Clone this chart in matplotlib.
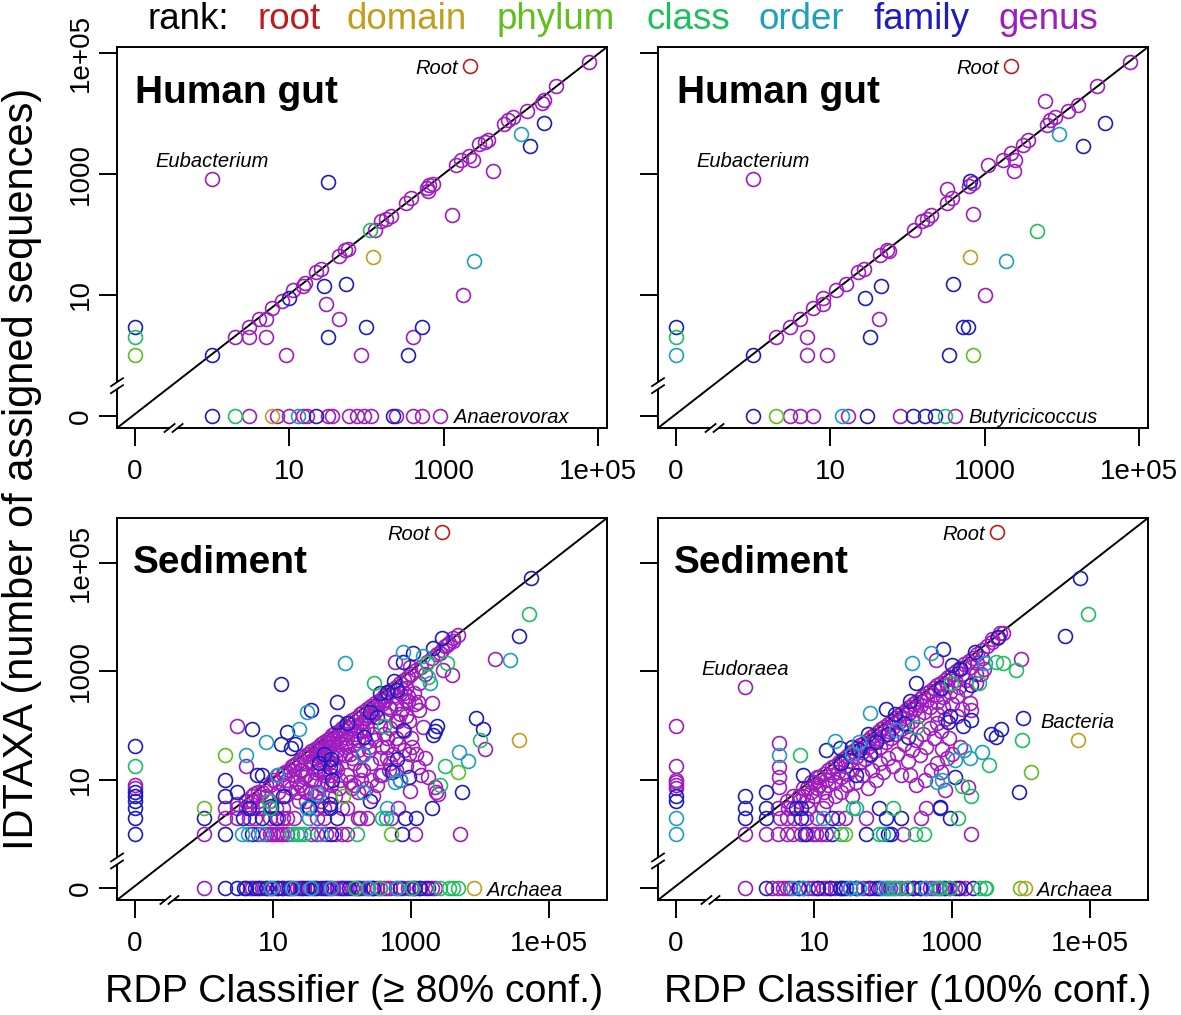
import numpy as np
import matplotlib
matplotlib.use("Agg")
import matplotlib.pyplot as plt

plt.rcParams['font.family'] = ['Liberation Sans', 'DejaVu Sans']

# ---------------------------------------------------------------- labels
RANKS = ["root", "domain", "phylum", "class", "order", "family", "genus"]
RANK_COLORS = ["#BF1D1D", "#BF9F1D", "#5EBF1D", "#1DBF5E", "#1D9FBF", "#1D1DBF", "#9F1DBF"]
TICK_VALUES = [0, 10, 1000, 100000]
TICK_LABELS = ["0", "10", "1000", "1e+05"]
PANEL_TITLES = ["Human gut", "Human gut", "Sediment", "Sediment"]
X_LABELS = ["RDP Classifier (\u2265 80% conf.)", "RDP Classifier (100% conf.)"]
Y_LABEL = "IDTAXA (number of assigned sequences)"

# ---------------------------------------------------------------- data: (RDP count, IDTAXA count)
# ----- Human gut, RDP >= 80%
TL_ROOT = [(2200, 61000)]
TL_DOMAIN = [(6, 0), (120, 43)]
TL_PHYLUM = [(0, 1)]
TL_CLASS = [(0, 2), (2, 0), (110, 120)]
TL_ORDER = [(13, 0), (2500, 36), (10000, 4500)]
TL_FAMILY = [(0, 3), (1, 0), (22, 0), (220, 0), (1, 1), (10, 9), (28, 14), (32, 2), (55, 15),
             (100, 3), (520, 3), (350, 1), (13000, 2900), (20000, 6900), (32, 740)]
TL_GENUS = [(3, 0), (7, 0), (10, 0), (15, 0), (17, 0), (32, 0), (36, 0), (60, 0), (76, 0), (94, 0),
            (116, 0), (240, 0), (400, 0), (530, 0), (900, 0),
            (2, 2), (3, 2), (3, 3), (4, 4), (5, 4), (5, 2), (6, 6), (8, 8), (11, 12), (15, 14),
            (16, 16), (22, 24), (26, 27), (30, 7), (44, 4), (9, 1), (44, 44), (52, 56), (57, 58),
            (85, 1), (130, 120), (155, 165), (180, 180), (210, 200), (330, 330), (380, 400),
            (600, 580), (650, 650), (720, 680), (620, 530), (400, 2), (1300, 210), (1800, 10),
            (1450, 1400), (1700, 1700), (2100, 2000), (2400, 1700), (2900, 3100), (3400, 3400),
            (3800, 3700), (4400, 1100), (6100, 6700), (6800, 7800), (7900, 8700), (12000, 11000),
            (19000, 15000), (20000, 17000), (29000, 28000), (77000, 70000), (1, 830)]

# ----- Human gut, RDP 100%
TR_ROOT = [(2200, 61000)]
TR_DOMAIN = [(650, 43)]
TR_PHYLUM = [(2, 0), (700, 1)]
TR_CLASS = [(0, 2), (306, 0), (4800, 115)]
TR_ORDER = [(0, 1), (14, 0), (1900, 36), (9200, 4500)]
TR_FAMILY = [(0, 3), (1, 0), (30, 0), (119, 0), (167, 0), (227, 0), (1, 1), (28, 9), (46, 14),
             (33, 2), (650, 780), (390, 15), (520, 3), (610, 3), (350, 1), (19000, 2900),
             (36000, 6900)]
TR_GENUS = [(3, 0), (4, 0), (6, 0), (17, 0), (81, 0), (412, 0),
            (2, 2), (3, 3), (4, 4), (5, 2), (5, 1), (6, 6), (8, 7), (8, 9), (9, 1), (12, 12),
            (16, 15), (23, 24), (27, 27), (43, 4), (44, 45), (54, 56), (57, 54), (120, 120),
            (155, 165), (180, 180), (200, 210), (330, 330), (380, 400), (330, 570), (620, 640),
            (700, 700), (710, 215), (1000, 10), (1100, 1400), (1750, 1700), (2200, 2200),
            (2400, 1100), (2500, 1700), (3100, 3000), (3600, 3600), (6100, 16000), (6400, 6500),
            (7000, 7800), (8200, 8700), (12000, 11000), (16000, 14000), (29000, 28000),
            (77000, 70000), (1, 830)]

# ----- Sediment, RDP >= 80%
BL_ROOT = [(2800, 370000)]
BL_DOMAIN = [(8100, 0), (37000, 55)]
BL_PHYLUM = [(520, 1), (1, 3), (4800, 14), (2, 29), (105, 5)]
BL_CLASS = [(0, 18), (155, 0), (360, 0), (1020, 0), (2600, 0), (3500, 0), (4100, 0), (4800, 0),
            (19, 1), (25, 1), (28, 1), (165, 1), (380, 2), (9, 3), (52000, 11500), (10000, 53),
            (3100, 18), (2600, 7.9), (3300, 1400), (1700, 1400), (1780, 800), (290, 600),
            (400, 100), (8.8, 4.1)]
BL_ORDER = [(9.3, 0), (19, 0), (35, 0), (620, 0), (3.6, 1), (4.3, 1), (7, 1), (22, 1), (50, 1),
            (33, 2), (440, 2), (31, 3), (450, 3), (27000, 1600), (4900, 33), (6700, 22),
            (110, 1450), (4, 29), (8, 49), (1500, 1900), (770, 2300), (1900, 600), (31, 175),
            (24, 87), (690, 9.7), (590, 9), (200, 6), (200, 28), (44, 5.5), (11.5, 12),
            (70, 0), (240, 0)]
BL_FAMILY = [(0, 42), (0, 6), (0, 5), (0, 4), (0, 3), (0, 2), (0, 1),
             (2, 0), (3, 0), (3.8, 0), (5.4, 0), (6.3, 0), (11.5, 0), (13.6, 0), (26, 0), (31, 0),
             (49, 0), (58, 0), (125, 0), (285, 0), (1350, 0), (1780, 0), (4, 0), (8, 0), (17, 0),
             (40, 0), (100, 0), (170, 0), (700, 0), (1100, 0),
             (2, 1), (5, 1), (70, 1), (730, 1), (1, 2), (3.7, 2), (7, 2), (11, 2), (85, 2),
             (820, 2), (1200, 2), (4.5, 3), (9.3, 3), (33, 3), (68, 3), (2000, 3),
             (55000, 52000), (37000, 4500), (8700, 135), (11000, 85), (5400, 5.9), (13, 590),
             (5, 86), (2, 10), (2, 5), (3, 6), (2800, 4100), (2100, 2700), (1080, 2150),
             (770, 1500), (560, 650), (620, 450), (450, 420), (360, 390), (85, 270), (35, 190),
             (16, 76), (13, 46), (18, 39), (21, 46), (85, 117), (118, 110), (205, 62), (255, 180),
             (320, 145), (770, 82), (2350, 100), (2100, 66), (2200, 80), (620, 24), (530, 14),
             (920, 11), (255, 4.1), (72, 9.7), (68, 17), (70, 24), (46, 20), (55, 30), (68, 3.6),
             (33, 3.1), (14, 5.1), (9.3, 3.3), (5.9, 12), (7, 12)]
BL_GENUS = [(0, 8), (0, 7),
            (1, 0), (4.7, 0), (7, 0), (8.3, 0), (16, 0), (22, 0), (44, 0), (68, 0), (85, 0),
            (106, 0), (183, 0), (230, 0), (320, 0), (400, 0), (500, 0), (770, 0), (1150, 0),
            (1600, 0), (2000, 0), (2200, 0), (5, 0), (6, 0), (9, 0), (10, 0), (12, 0), (14, 0),
            (18, 0), (20, 0), (25, 0), (28, 0), (33, 0), (38, 0), (55, 0), (62, 0), (75, 0),
            (95, 0), (115, 0), (140, 0), (160, 0), (200, 0), (260, 0), (280, 0), (350, 0),
            (450, 0), (600, 0), (900, 0), (1000, 0), (1300, 0),
            (1, 1), (6, 1), (8, 1), (9, 1), (10, 1), (11, 1), (12, 1), (13, 1), (14, 1), (16, 1),
            (35, 1), (44, 1), (58, 1), (80, 1), (100, 1), (120, 1), (1150, 1), (5100, 1),
            (2, 2), (3, 2), (4.5, 2), (5.5, 2), (9, 2), (12, 2), (14, 2), (16, 2), (20, 2),
            (44, 2), (55, 2), (170, 2), (180, 2), (230, 2), (520, 2),
            (2, 3), (4, 3), (6, 3), (11, 3), (14, 3), (44, 3), (55, 3), (100, 3), (120, 3), (650, 3),
            (16600, 1700), (12000, 37), (2300, 6), (3, 97), (4, 18), (4800, 4700), (4100, 4100),
            (3500, 3300), (3100, 2900), (2600, 2200), (3900, 850), (2900, 1050), (590, 1500),
            (970, 1220), (1500, 95), (2000, 255), (1270, 275), (1300, 190), (700, 165), (860, 290),
            (1020, 40), (860, 18), (1270, 17), (1780, 11), (2200, 7.3), (960, 6.3), (2500, 5.5),
            (3, 3.6), (4, 4.1), (5.3, 5.5),
            (3, 3), (4, 4), (5, 4), (5, 5), (6, 6), (7, 6), (8, 8), (9, 8), (10, 10), (11, 9),
            (12, 12), (14, 13), (15, 14), (17, 15), (19, 18), (20, 19), (22, 20), (25, 23),
            (28, 26), (30, 28), (33, 30), (36, 34), (40, 37), (45, 40), (50, 46), (55, 50),
            (60, 55), (66, 60), (72, 66), (80, 72), (90, 80), (100, 90), (110, 100), (125, 110),
            (140, 125), (160, 140), (180, 160), (200, 180), (230, 200), (260, 230), (300, 260),
            (350, 300), (400, 350), (460, 400), (520, 460), (600, 520), (700, 600), (800, 700),
            (900, 800), (1000, 900), (1200, 1050), (1400, 1200), (1700, 1500), (2000, 1800),
            (2400, 2100), (2800, 2500), (3300, 3000), (4000, 3600),
            (5, 3), (6, 4), (7, 3), (8, 5), (9, 4), (12, 6), (14, 8), (15, 5), (16, 10), (18, 7),
            (20, 12), (22, 9), (25, 15), (28, 11), (30, 6), (24, 4), (26, 7), (35, 20), (40, 25),
            (45, 15), (50, 30), (55, 12), (60, 35), (65, 20), (70, 8), (75, 45), (80, 25), (85, 15),
            (90, 50), (95, 30), (35, 10), (45, 6), (55, 25), (65, 40), (75, 18), (85, 60), (95, 10),
            (40, 14), (60, 9), (70, 30), (80, 5), (110, 70), (120, 40), (130, 90), (140, 25),
            (150, 60), (160, 100), (170, 35), (180, 15), (190, 80), (200, 120), (220, 50),
            (240, 150), (260, 20), (280, 70), (300, 180), (120, 12), (150, 8), (200, 30), (250, 40),
            (110, 28), (170, 55), (230, 90), (140, 7), (190, 10), (330, 250), (350, 100), (380, 40),
            (400, 300), (420, 160), (450, 60), (480, 220), (500, 20), (550, 350), (600, 120),
            (650, 45), (700, 400), (750, 200), (800, 80), (850, 500), (900, 280), (950, 30),
            (350, 12), (450, 25), (600, 15), (700, 10), (800, 35), (120, 60), (150, 45), (200, 80),
            (250, 35), (300, 55), (350, 25), (400, 70), (450, 40), (500, 90), (550, 30), (150, 20),
            (200, 15), (260, 10), (320, 8), (380, 12), (220, 7), (280, 5), (130, 9), (170, 6),
            (480, 15), (600, 60), (650, 120), (850, 150), (900, 350), (1100, 400), (1300, 600),
            (1600, 900), (1150, 250), (950, 120), (1000, 60), (1200, 30), (1400, 12), (1600, 25),
            (800, 400), (600, 250), (500, 200), (25, 8), (30, 12), (35, 6), (40, 10), (45, 18),
            (50, 8), (55, 14), (60, 22), (65, 5), (70, 12), (80, 18), (90, 7), (30, 4), (40, 5),
            (50, 4), (22, 6), (26, 15), (34, 22), (42, 28), (48, 35), (58, 40), (64, 48), (75, 55),
            (85, 35), (95, 70), (110, 45), (130, 30), (160, 70), (190, 110), (220, 140), (270, 170),
            (320, 200), (380, 250), (420, 300)]

# ----- Sediment, RDP 100%
BR_ROOT = [(4500, 370000)]
BR_DOMAIN = [(11300, 0), (66000, 55)]
BR_PHYLUM = [(9570, 0), (28, 1), (13800, 14)]
BR_CLASS = [(140, 0), (218, 0), (662, 0), (925, 0), (2520, 0), (2970, 0), (3150, 0),
            (25, 1), (89, 1), (290, 1), (390, 1), (1220, 2), (37, 3), (140, 3),
            (93000, 11500), (8500, 1040), (5500, 1400), (4400, 1500), (10400, 53), (3400, 19),
            (1900, 5.1), (1400, 7.5), (2500, 600), (980, 600), (300, 95), (6.2, 29)]
BR_ORDER = [(0, 2), (0, 1), (5, 0), (6.9, 0), (33, 0), (100, 0), (165, 0), (593, 0),
            (45, 0), (120, 0), (400, 0),
            (100, 1), (13.5, 2), (41, 3), (3000, 1400), (2700, 33), (1500, 35), (1100, 23),
            (710, 9.7), (600, 9), (500, 2150), (260, 1450), (64, 170), (155, 82), (20, 51),
            (3.1, 29), (1800, 25), (45, 50), (35, 30)]
BR_FAMILY = [(0, 5), (0, 4), (2, 0), (11.4, 0), (16.9, 0), (23.5, 0), (29, 0), (41, 0), (64, 0),
             (340, 0), (1220, 0), (2010, 0), (6, 0), (26, 0), (85, 0), (270, 0), (800, 0),
             (7.3, 1), (18.4, 1), (57, 1), (118, 1), (132, 1), (1, 2), (2, 2), (6.5, 2), (18.4, 2),
             (112, 2), (185, 2), (925, 2), (1, 3), (2, 3), (5.5, 3), (6.5, 3), (89, 3), (662, 3),
             (1, 5), (2, 6), (71000, 52000), (43000, 4500), (10700, 135), (9400, 5.9), (3700, 71),
             (4400, 62), (5200, 88), (1100, 11), (660, 3.1), (1900, 125), (1450, 98), (870, 117),
             (950, 150), (1900, 560), (300, 600), (740, 2600), (4600, 4300), (2150, 2300),
             (112, 205), (230, 62), (15, 36), (24, 38), (7, 12), (150, 160), (60, 70), (35, 40),
             (250, 280), (1000, 1300), (1300, 1100), (25, 20), (45, 35), (80, 50), (200, 110),
             (120, 70), (65, 30), (40, 12), (700, 500)]
BR_GENUS = [(0, 97), (0, 18), (0, 10), (0, 9), (0, 8), (0, 7),
            (1, 0), (3, 0), (3.6, 0), (4, 0), (5.9, 0), (8.2, 0), (9.7, 0), (13.5, 0), (20, 0),
            (51, 0), (76, 0), (125, 0), (185, 0), (272, 0), (425, 0), (530, 0), (741, 0), (1530, 0),
            (2.5, 0), (4.5, 0), (7, 0), (11, 0), (15, 0), (17, 0), (25, 0), (33, 0), (40, 0),
            (60, 0), (90, 0), (110, 0), (150, 0), (230, 0), (350, 0), (480, 0), (650, 0),
            (900, 0), (1100, 0), (1300, 0),
            (1, 1), (2, 1), (3, 1), (4, 1), (5, 1), (6.5, 1), (9.7, 1), (10.8, 1), (12.8, 1),
            (195, 1), (1900, 1), (3.2, 2), (4, 2), (5.2, 2), (7.7, 2), (28, 2), (57, 2), (360, 2),
            (3, 3), (4.2, 3), (8.2, 3), (13.5, 3), (425, 3), (8, 1), (15, 1), (22, 2), (11, 2),
            (10000, 1700), (710, 37), (1700, 7.3), (800, 6.5), (1900, 190), (1800, 260),
            (1200, 150), (740, 220), (600, 165), (590, 1600), (5000, 5000), (3800, 3900),
            (2700, 1800), (2900, 1100), (2300, 1400), (3.1, 47), (3.1, 17), (3.1, 11), (3.1, 7.3),
            (1, 520),
            (4, 4), (5, 5), (6, 5), (7, 7), (8, 7), (9, 9), (10, 9), (11, 11), (12, 11), (14, 13),
            (16, 15), (18, 17), (20, 18), (23, 21), (26, 24), (30, 27), (33, 31), (37, 34),
            (42, 38), (47, 43), (53, 48), (60, 55), (67, 61), (75, 68), (85, 77), (95, 86),
            (105, 95), (120, 108), (135, 122), (150, 136), (170, 154), (190, 172), (215, 195),
            (240, 218), (270, 245), (300, 272), (340, 308), (380, 345), (430, 390), (480, 435),
            (540, 490), (610, 550), (690, 620), (780, 700), (880, 790), (1000, 900), (1150, 1030),
            (1300, 1170), (1500, 1350), (1750, 1580), (2000, 1800), (2300, 2100), (2700, 2450),
            (3200, 2900), (3800, 3500), (4500, 4200), (5500, 5200),
            (5, 3), (6, 4), (7, 5), (8, 4), (9, 6), (10, 5), (11, 7), (12, 8), (14, 6), (15, 10),
            (16, 8), (18, 12), (20, 9), (22, 14), (25, 11), (28, 18), (30, 13), (33, 22), (36, 16),
            (40, 26), (45, 20), (50, 32), (55, 24), (60, 40), (65, 28), (70, 48), (75, 34),
            (80, 55), (90, 40), (100, 65), (110, 50), (120, 80), (130, 60), (140, 95), (155, 70),
            (170, 115), (185, 85), (200, 140), (220, 100), (240, 170), (260, 120), (290, 200),
            (320, 150), (350, 240), (390, 180), (430, 300), (480, 220), (530, 360), (600, 270),
            (670, 450), (750, 330), (850, 560), (950, 420), (1100, 700), (1250, 520), (1400, 900),
            (1600, 700), (1900, 1200), (2200, 900),
            (15, 4), (20, 5), (25, 6), (30, 8), (35, 5), (40, 9), (50, 12), (60, 7), (70, 15),
            (80, 10), (90, 20), (100, 14), (120, 25), (140, 18), (160, 30), (180, 12), (200, 45),
            (230, 22), (260, 35), (300, 55), (340, 28), (380, 70), (420, 40), (480, 90), (540, 60),
            (600, 110), (700, 80), (800, 130), (900, 60), (1000, 250), (1200, 350), (1400, 200),
            (1600, 450), (1000, 30), (600, 20), (400, 10), (500, 15), (300, 8), (250, 12),
            (700, 14), (850, 25), (1300, 40), (2200, 600), (2600, 900)]

PANEL_DATA = [
    [TL_GENUS, TL_FAMILY, TL_ORDER, TL_CLASS, TL_PHYLUM, TL_DOMAIN, TL_ROOT],
    [TR_GENUS, TR_FAMILY, TR_ORDER, TR_CLASS, TR_PHYLUM, TR_DOMAIN, TR_ROOT],
    [BL_GENUS, BL_FAMILY, BL_ORDER, BL_CLASS, BL_PHYLUM, BL_DOMAIN, BL_ROOT],
    [BR_GENUS, BR_FAMILY, BR_ORDER, BR_CLASS, BR_PHYLUM, BR_DOMAIN, BR_ROOT],
]
DRAW_RANKS = ["genus", "family", "order", "class", "phylum", "domain", "root"]

# labels: (text, rdp, idtaxa, dx_pt, dy_pt, ha)
PANEL_NOTES = [
    [("Root", 2200, 61000, -8.6, 0, "right"), ("Eubacterium", 1, 830, 0, 13.7, "center"),
     ("Anaerovorax", 900, 0, 10, 0, "left")],
    [("Root", 2200, 61000, -8.6, 0, "right"), ("Eubacterium", 1, 830, 0, 13.7, "center"),
     ("Butyricicoccus", 412, 0, 9.4, 0, "left")],
    [("Root", 2800, 370000, -8.6, 0, "right"), ("Archaea", 8100, 0, 9.4, 0, "left")],
    [("Root", 4500, 370000, -8.6, 0, "right"), ("Eudoraea", 1, 520, 0, 13.7, "center"),
     ("Bacteria", 66000, 55, 0, 13.7, "center"), ("Archaea", 11300, 0, 8.6, 0, "left")],
]

# ---------------------------------------------------------------- scale: log10 with 0 placed at -1
def fwd(v):
    v = np.asarray(v, dtype=float)
    safe = np.where(v > 0, v, 0.1)
    return np.where(v > 0, np.log10(safe), -1.0)


def inv(v):
    return 10.0 ** np.asarray(v, dtype=float)


W, H = 1181, 1015
fig = plt.figure(figsize=(W / 100, H / 100), dpi=100)

# axes boxes in pixels: (left, top, right, bottom)
BOXES = [(117, 47, 607, 428), (658, 47, 1148, 428), (117, 518, 607, 900), (658, 518, 1148, 900)]
LIMS = [((-1.233, 5.117), (-1.2, 5.1)), ((-1.233, 5.117), (-1.2, 5.1)),
        ((-1.26, 5.84), (-1.22, 5.83)), ((-1.26, 5.84), (-1.22, 5.83))]
TITLE_POS = [(0.037, 0.853), (0.039, 0.853), (0.033, 0.856), (0.033, 0.856)]

for i, (l, t, r, b) in enumerate(BOXES):
    ax = fig.add_axes([l / W, 1 - b / H, (r - l) / W, (b - t) / H])
    ax.set_xscale('function', functions=(fwd, inv))
    ax.set_yscale('function', functions=(fwd, inv))
    (x0, x1), (y0, y1) = LIMS[i]
    ax.set_xticks(TICK_VALUES)
    ax.set_xticklabels(TICK_LABELS)
    ax.set_yticks(TICK_VALUES)
    if i % 2 == 0:
        ax.set_yticklabels(TICK_LABELS)
    else:
        ax.set_yticklabels([])
    ax.minorticks_off()
    ax.set_xlim(inv(x0), inv(x1))
    ax.set_ylim(inv(y0), inv(y1))
    ax.tick_params(axis='both', length=13, width=1.4, labelsize=20, direction='out')
    ax.tick_params(axis='x', pad=9)
    ax.tick_params(axis='y', pad=4, labelrotation=90)
    for lab in ax.get_yticklabels():
        lab.set_va('center')
    for sp in ax.spines.values():
        sp.set_linewidth(1.4)

    # diagonal y = x
    ax.plot([0, 1], [0, 1], transform=ax.transAxes, color='black', lw=1.4, zorder=1)

    for rank, pts in zip(DRAW_RANKS, PANEL_DATA[i]):
        col = RANK_COLORS[RANKS.index(rank)]
        xs = [p[0] for p in pts]
        ys = [p[1] for p in pts]
        ax.plot(xs, ys, linestyle='none', marker='o', ms=10, mfc='none', mec=col, mew=1.2,
                zorder=3)

    for txt, xv, yv, dx, dy, ha in PANEL_NOTES[i]:
        ax.annotate(txt, (xv, yv), xytext=(dx, dy), textcoords='offset points', ha=ha,
                    va='center_baseline', fontsize=14.5, style='italic', zorder=4)

    ax.text(TITLE_POS[i][0], TITLE_POS[i][1], PANEL_TITLES[i], transform=ax.transAxes,
            fontsize=28, fontweight='bold', ha='left', va='baseline')

    # axis break marks at log10 = -0.5
    wpx, hpx = r - l, b - t
    yb = (-0.5 - y0) / (y1 - y0)
    xb = (-0.5 - x0) / (x1 - x0)
    kw = dict(transform=ax.transAxes, clip_on=False, zorder=6)
    ax.plot([0, 0], [yb - 3.5 / hpx, yb + 3.5 / hpx], color='white', lw=3, solid_capstyle='butt', **kw)
    for o in (-3.5, 3.5):
        ax.plot([-6 / wpx, 6 / wpx], [yb + (o - 4) / hpx, yb + (o + 4) / hpx], color='black', lw=1.3, **kw)
    ax.plot([xb - 4 / wpx, xb + 4 / wpx], [0, 0], color='white', lw=3, solid_capstyle='butt', **kw)
    for o in (-4, 4):
        ax.plot([xb + (o - 5) / wpx, xb + (o + 5) / wpx], [-4 / hpx, 4 / hpx], color='black', lw=1.3, **kw)

# ---------------------------------------------------------------- header legend
HEADER_WORDS = ["rank:"] + RANKS
HEADER_X = [148, 258, 347, 497, 646, 758, 873, 998]
HEADER_COLORS = ["black"] + RANK_COLORS
for word, xp, col in zip(HEADER_WORDS, HEADER_X, HEADER_COLORS):
    fig.text(xp / W, 1 - 29 / H, word, color=col, fontsize=26.5, ha='left', va='baseline')

# ---------------------------------------------------------------- axis titles
fig.text(354 / W, 1 - 1002 / H, X_LABELS[0], fontsize=28.3, ha='center', va='baseline')
fig.text(908 / W, 1 - 1002 / H, X_LABELS[1], fontsize=28.3, ha='center', va='baseline')
fig.text(22 / W, 1 - 469 / H, Y_LABEL, fontsize=30, rotation=90, ha='center', va='center')

fig.savefig("out.png", dpi=100)
